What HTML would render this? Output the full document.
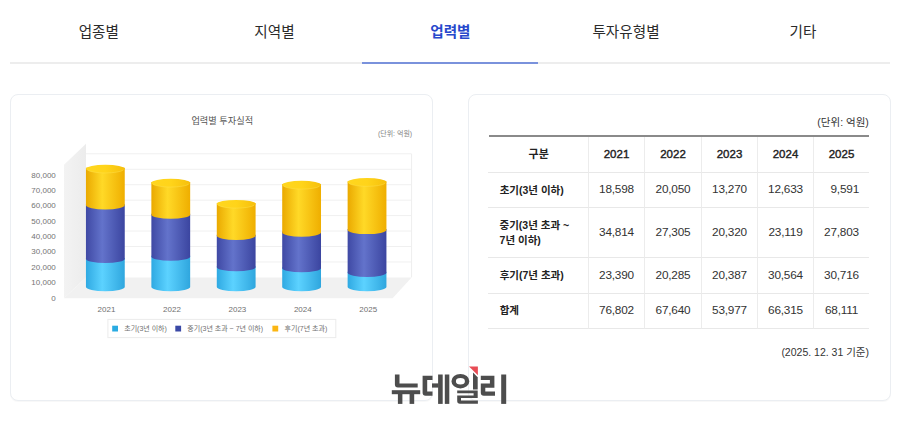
<!DOCTYPE html>
<html lang="ko"><head><meta charset="utf-8"><title>업력별 투자실적</title>
<style>
html,body{margin:0;padding:0;background:#fff}
body{width:899px;height:422px;position:relative;overflow:hidden;font-family:"Liberation Sans",sans-serif;color:#333}
.tabline{position:absolute;left:10px;top:62px;width:880px;height:2px;background:#ededed}
.tabact{position:absolute;left:362px;top:62px;width:176px;height:2px;background:#7a92dc}
.card{position:absolute;top:94px;height:307px;width:423px;box-sizing:border-box;border:1px solid #ebeef2;border-radius:8px;background:#fff;box-shadow:0 1px 1px rgba(0,0,0,0.03)}
#c1{left:10px}
#c2{left:467.5px}
.ttop{position:absolute;left:488.5px;top:135px;width:380.5px;height:2px;background:#8a8a8a}
table{position:absolute;left:488px;top:137px;width:381px;border-collapse:separate;border-spacing:0;table-layout:fixed}
col.c0{width:100px}
col.cn{width:56px}
col.cw{width:57px}
th,td{box-sizing:border-box;height:35px;padding:0;margin:0;text-align:center;vertical-align:middle;border-bottom:1px solid #e8e8e8;border-left:1px solid #ececec;font-weight:normal;font-size:11.6px;color:#333;letter-spacing:-0.1px}
th.c0{border-left:none}
tr.hd th{height:36px;font-size:11.5px;color:#222;letter-spacing:0;-webkit-text-stroke:0.4px #222;padding-bottom:1.6px}
tr.tall td,tr.tall th{height:50px}
tr.r36 td,tr.r36 th{height:36px}
td{padding-bottom:1.2px;font-size:11.8px;letter-spacing:-0.2px}
td.sh{padding-left:6.5px}
svg.ov{position:absolute;left:0;top:0}
svg.ov text{font-family:"Liberation Sans","Noto Sans CJK KR",sans-serif}
</style></head><body>
<div class="tabline"></div><div class="tabact"></div>
<div class="card" id="c1"></div>
<div class="card" id="c2"></div>
<div class="ttop"></div>
<table><colgroup><col class="c0"><col class="cn"><col class="cw"><col class="cn"><col class="cn"><col class="cn"></colgroup>
<tr class="hd"><th class="c0" aria-label="구분"></th><th>2021</th><th>2022</th><th>2023</th><th>2024</th><th>2025</th></tr><tr><th class="c0" aria-label="초기(3년 이하)"></th><td>18,598</td><td>20,050</td><td>13,270</td><td>12,633</td><td class="sh">9,591</td></tr><tr class="tall"><th class="c0" aria-label="중기(3년 초과 ~ 7년 이하)"></th><td>34,814</td><td>27,305</td><td>20,320</td><td>23,119</td><td>27,803</td></tr><tr class="r36"><th class="c0" aria-label="후기(7년 초과)"></th><td>23,390</td><td>20,285</td><td>20,387</td><td>30,564</td><td>30,716</td></tr><tr><th class="c0" aria-label="합계"></th><td>76,802</td><td>67,640</td><td>53,977</td><td>66,315</td><td>68,111</td></tr>
</table>
<svg class="ov" width="899" height="422" viewBox="0 0 899 422">
<defs>
<linearGradient id="gy" x1="0" x2="1" y1="0" y2="0"><stop offset="0" stop-color="#eaa900"/><stop offset="0.42" stop-color="#ffd927"/><stop offset="1" stop-color="#efae00"/></linearGradient>
<linearGradient id="gb" x1="0" x2="1" y1="0" y2="0"><stop offset="0" stop-color="#3f49a4"/><stop offset="0.42" stop-color="#6373cb"/><stop offset="1" stop-color="#3b45a0"/></linearGradient>
<linearGradient id="gc" x1="0" x2="1" y1="0" y2="0"><stop offset="0" stop-color="#2fa9e2"/><stop offset="0.42" stop-color="#5cd2ff"/><stop offset="1" stop-color="#2fa6de"/></linearGradient>
<linearGradient id="gtop" x1="0" x2="1" y1="0" y2="0"><stop offset="0" stop-color="#ffd61f"/><stop offset="0.5" stop-color="#ffd41a"/><stop offset="1" stop-color="#f6bf0c"/></linearGradient>
<linearGradient id="gwall" x1="0" x2="1" y1="0" y2="0"><stop offset="0" stop-color="#f3f3f3"/><stop offset="1" stop-color="#ececec"/></linearGradient>
</defs>
<text x="98.8" y="37.2" font-size="14.6" fill="#2b2b2b" text-anchor="middle">업종별</text>
<text x="274.5" y="37.2" font-size="14.6" fill="#2b2b2b" text-anchor="middle">지역별</text>
<text x="450.4" y="37.4" font-size="14.6" font-weight="bold" fill="#2748cc" text-anchor="middle">업력별</text>
<text x="626" y="37.3" font-size="14.6" fill="#2b2b2b" text-anchor="middle">투자유형별</text>
<text x="803" y="37.2" font-size="14.6" fill="#2b2b2b" text-anchor="middle">기타</text>
<g><polygon points="64.0,298.3 86.0,277.40000000000003 86.0,143.8 64.0,164.70000000000002" fill="url(#gwall)"/><polygon points="64.0,298.3 86.0,277.40000000000003 411.6,277.40000000000003 392.6,298.3" fill="#f1f1f1"/><line x1="86.0" x2="411.6" y1="261.95" y2="261.95" stroke="#f0f0f0" stroke-width="1"/><line x1="86.0" x2="411.6" y1="246.50" y2="246.50" stroke="#f0f0f0" stroke-width="1"/><line x1="86.0" x2="411.6" y1="231.05" y2="231.05" stroke="#f0f0f0" stroke-width="1"/><line x1="86.0" x2="411.6" y1="215.60" y2="215.60" stroke="#f0f0f0" stroke-width="1"/><line x1="86.0" x2="411.6" y1="200.15" y2="200.15" stroke="#f0f0f0" stroke-width="1"/><line x1="86.0" x2="411.6" y1="184.70" y2="184.70" stroke="#f0f0f0" stroke-width="1"/><line x1="86.0" x2="411.6" y1="169.25" y2="169.25" stroke="#f0f0f0" stroke-width="1"/><line x1="86.0" x2="411.6" y1="153.80" y2="153.80" stroke="#f0f0f0" stroke-width="1"/><line x1="411.6" x2="411.6" y1="153.9" y2="277.40000000000003" stroke="#eeeeee" stroke-width="1"/><path d="M85.95,257.96 L85.95,287.10 A19.4,4.1 0 0 0 124.75,287.10 L124.75,257.96 Z" fill="url(#gc)"/><path d="M85.95,204.35 L85.95,258.96 A19.4,4.1 0 0 0 124.75,258.96 L124.75,204.35 Z" fill="url(#gb)"/><path d="M85.95,167.82 L85.95,205.35 A19.4,4.1 0 0 0 124.75,205.35 L124.75,167.82 Z" fill="url(#gy)"/><ellipse cx="105.35" cy="168.82" rx="19.4" ry="4.1" fill="url(#gtop)"/><path d="M87.45,170.02 A18.4,3.8 0 0 0 123.25,170.02" fill="none" stroke="#ffe45a" stroke-opacity="0.55" stroke-width="0.7"/><path d="M151.37,255.72 L151.37,287.10 A19.4,4.1 0 0 0 190.17,287.10 L190.17,255.72 Z" fill="url(#gc)"/><path d="M151.37,213.67 L151.37,256.72 A19.4,4.1 0 0 0 190.17,256.72 L190.17,213.67 Z" fill="url(#gb)"/><path d="M151.37,181.93 L151.37,214.67 A19.4,4.1 0 0 0 190.17,214.67 L190.17,181.93 Z" fill="url(#gy)"/><ellipse cx="170.77" cy="182.93" rx="19.4" ry="4.1" fill="url(#gtop)"/><path d="M152.87,184.13 A18.4,3.8 0 0 0 188.67,184.13" fill="none" stroke="#ffe45a" stroke-opacity="0.55" stroke-width="0.7"/><path d="M216.79,266.16 L216.79,287.10 A19.4,4.1 0 0 0 255.59,287.10 L255.59,266.16 Z" fill="url(#gc)"/><path d="M216.79,234.87 L216.79,267.16 A19.4,4.1 0 0 0 255.59,267.16 L255.59,234.87 Z" fill="url(#gb)"/><path d="M216.79,202.98 L216.79,235.87 A19.4,4.1 0 0 0 255.59,235.87 L255.59,202.98 Z" fill="url(#gy)"/><ellipse cx="236.19" cy="203.98" rx="19.4" ry="4.1" fill="url(#gtop)"/><path d="M218.29,205.18 A18.4,3.8 0 0 0 254.09,205.18" fill="none" stroke="#ffe45a" stroke-opacity="0.55" stroke-width="0.7"/><path d="M282.21,267.15 L282.21,287.10 A19.4,4.1 0 0 0 321.01,287.10 L321.01,267.15 Z" fill="url(#gc)"/><path d="M282.21,231.54 L282.21,268.15 A19.4,4.1 0 0 0 321.01,268.15 L321.01,231.54 Z" fill="url(#gb)"/><path d="M282.21,183.97 L282.21,232.54 A19.4,4.1 0 0 0 321.01,232.54 L321.01,183.97 Z" fill="url(#gy)"/><ellipse cx="301.61" cy="184.97" rx="19.4" ry="4.1" fill="url(#gtop)"/><path d="M283.71,186.17 A18.4,3.8 0 0 0 319.51,186.17" fill="none" stroke="#ffe45a" stroke-opacity="0.55" stroke-width="0.7"/><path d="M347.63,271.83 L347.63,287.10 A19.4,4.1 0 0 0 386.43,287.10 L386.43,271.83 Z" fill="url(#gc)"/><path d="M347.63,229.01 L347.63,272.83 A19.4,4.1 0 0 0 386.43,272.83 L386.43,229.01 Z" fill="url(#gb)"/><path d="M347.63,181.21 L347.63,230.01 A19.4,4.1 0 0 0 386.43,230.01 L386.43,181.21 Z" fill="url(#gy)"/><ellipse cx="367.03" cy="182.21" rx="19.4" ry="4.1" fill="url(#gtop)"/><path d="M349.13,183.41 A18.4,3.8 0 0 0 384.93,183.41" fill="none" stroke="#ffe45a" stroke-opacity="0.55" stroke-width="0.7"/></g>
<text x="222.3" y="124.3" font-size="9.2" fill="#555" text-anchor="middle">업력별 투자실적</text>
<text x="412.2" y="135.9" font-size="7" fill="#858585" text-anchor="end">(단위: 억원)</text>
<g font-size="8" fill="#747474" text-anchor="end">
<text x="55.8" y="300.95">0</text>
<text x="55.8" y="284.92">10,000</text>
<text x="55.8" y="269.62">20,000</text>
<text x="55.8" y="254.32">30,000</text>
<text x="55.8" y="239.02">40,000</text>
<text x="55.8" y="223.72">50,000</text>
<text x="55.8" y="208.42">60,000</text>
<text x="55.8" y="193.12">70,000</text>
<text x="55.8" y="177.82">80,000</text>
</g>
<g font-size="8" fill="#707070" text-anchor="middle">
<text x="106.5" y="311.64">2021</text>
<text x="172" y="311.64">2022</text>
<text x="237.4" y="311.64">2023</text>
<text x="302.8" y="311.64">2024</text>
<text x="368.2" y="311.64">2025</text>
</g>
<rect x="107.9" y="319.4" width="227.9" height="18.2" fill="#fff" stroke="#ececec" stroke-width="1"/>
<rect x="112.2" y="325.7" width="5.8" height="5.8" fill="#2aabe2"/>
<text x="124.2" y="331.1" font-size="7" fill="#707070">초기(3년 이하)</text>
<rect x="175.3" y="325.7" width="5.8" height="5.8" fill="#3b49a6"/>
<text x="187.3" y="331.1" font-size="7" fill="#707070">중기(3년 초과 ~ 7년 이하)</text>
<rect x="272.4" y="325.7" width="5.8" height="5.8" fill="#fbb613"/>
<text x="284.6" y="331.1" font-size="7" fill="#707070">후기(7년 초과)</text>
<text x="868.8" y="126.3" font-size="10.5" fill="#333" text-anchor="end">(단위: 억원)</text>
<text x="538.7" y="158.3" font-size="11" font-weight="bold" fill="#222" text-anchor="middle">구분</text>
<g font-size="10.5" font-weight="bold" fill="#222">
<text x="499.7" y="193.8">초기(3년 이하)</text>
<text x="499.5" y="229.2">중기(3년 초과 ~</text>
<text x="499.6" y="243.8">7년 이하)</text>
<text x="499.7" y="279.2">후기(7년 초과)</text>
<text x="499.7" y="314.2">합계</text>
</g>
<text x="869" y="356.23" font-size="10.5" fill="#333" text-anchor="end">(2025. 12. 31 기준)</text>
<g fill="#4d4d4d"><path d="M394.9,374.5 h4.6 v8.9 h18.2 v4.2 h-19.8 a3,3 0 0 1 -3,-3 Z"/><rect x="391.80" y="390.20" width="28.40" height="4.00"/><rect x="397.90" y="392.00" width="4.50" height="11.90"/><rect x="409.60" y="392.00" width="4.60" height="11.90"/><path d="M422.6,375.8 h9.9 v4.2 h-5.3 v11.5 h5.3 v4.2 h-6.9 a3,3 0 0 1 -3,-3 Z"/><rect x="432.00" y="383.40" width="6.50" height="4.20"/><rect x="438.10" y="374.50" width="4.60" height="29.40"/><rect x="444.80" y="374.50" width="4.50" height="29.40"/><path fill-rule="evenodd" d="M451.45,381.2 a8.95,7.2 0 1 0 17.9,0 a8.95,7.2 0 1 0 -17.9,0 Z M455.9,381.2 a4.5,3.25 0 1 1 9,0 a4.5,3.25 0 1 1 -9,0 Z"/><path d="M473,372.6 L477.7,377.3 V389.6 H473 Z"/><path d="M457.2,390.4 H477.7 V397.9 H461 V400.4 H477.9 V403.8 H460 a2.8,2.8 0 0 1 -2.8,-2.8 V395.4 H473.6 V393.2 H457.2 Z"/><path d="M480.8,375.8 H494.4 V387.8 H485.3 V391.5 H495 V395.7 H483.8 a3,3 0 0 1 -3,-3 V383.6 H489.9 V380 H480.8 Z"/><rect x="501.20" y="374.50" width="5.00" height="29.40"/></g>
<polygon points="469,366.5 477.9,366.5 477.9,375.3" fill="#e84c55"/>
</svg>
</body></html>
